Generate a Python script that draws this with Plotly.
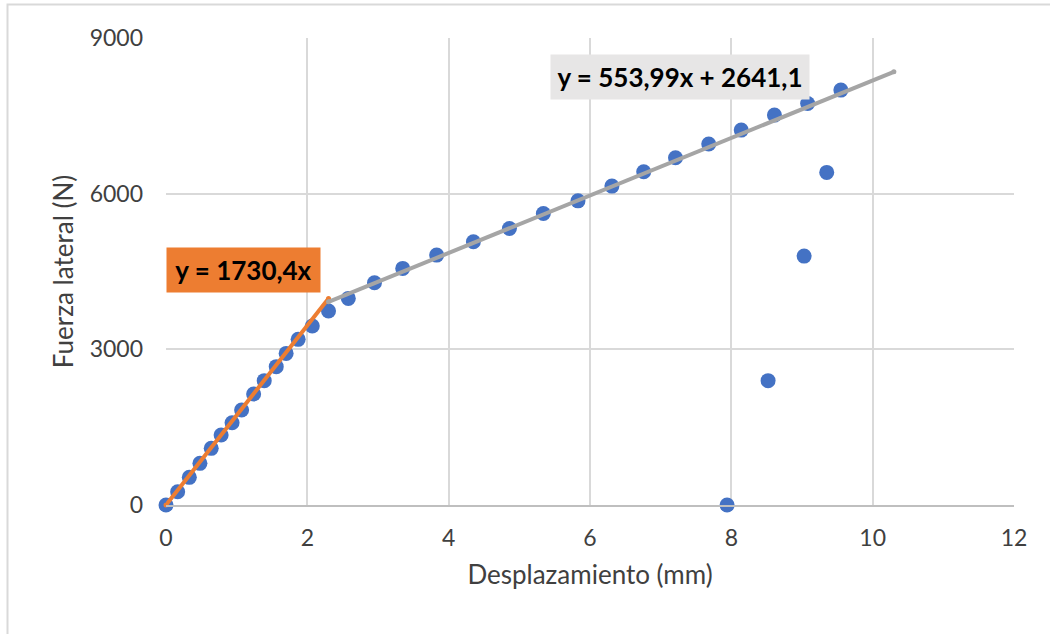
import plotly.graph_objects as go

# Measured points (displacement mm, lateral force N)
disp = [0.0, 0.165, 0.33, 0.48, 0.64, 0.78, 0.935, 1.07, 1.24, 1.39, 1.56, 1.70, 1.87, 2.07, 2.30,
        2.58, 2.95, 3.35, 3.83, 4.35, 4.86, 5.34, 5.83, 6.31, 6.76, 7.21, 7.68, 8.14, 8.61, 9.08, 9.55,
        9.35, 9.03, 8.52, 7.94]
force = [0, 256, 533, 803, 1092, 1348, 1586, 1830, 2139, 2396, 2666, 2922, 3192, 3449, 3738,
         3982, 4283, 4560, 4816, 5073, 5330, 5619, 5862, 6146, 6422, 6692, 6956, 7225, 7514, 7739, 7996,
         6410, 4797, 2396, 0]

# Trendlines: y = slope*x + intercept over [x_start, x_end]
trend_names = ["y = 1730,4x", "y = 553,99x + 2641,1"]
trend_slope = [1730.4, 553.99]
trend_intercept = [0.0, 2641.1]
trend_x_start = [0.0, 2.30]
trend_x_end = [2.30, 10.30]
trend_colors = ["#ED7D31", "#A5A5A5"]
label_bg = ["#ED7D31", "#E7E6E6"]
label_x = [1.097, 7.28]
label_y = [4529, 8244]
label_w = [153, 258]

x_ticks = [0, 2, 4, 6, 8, 10, 12]
y_ticks = [0, 3000, 6000, 9000]

FONT = "Lato"

fig = go.Figure()
fig.add_trace(go.Scatter(x=disp, y=force, mode="markers", cliponaxis=False,
                         marker=dict(color="#4472C4", size=15, line=dict(width=0)),
                         showlegend=False, hoverinfo="x+y"))
for i in range(len(trend_names)):
    xs = [trend_x_start[i], trend_x_end[i]]
    ys = [trend_slope[i] * v + trend_intercept[i] for v in xs]
    fig.add_trace(go.Scatter(x=xs, y=ys, mode="lines+markers", cliponaxis=False,
                             line=dict(color=trend_colors[i], width=4),
                             marker=dict(color=trend_colors[i], size=5),
                             showlegend=False, hoverinfo="skip"))
    fig.add_annotation(x=label_x[i], y=label_y[i], xref="x", yref="y",
                       text="<b>" + trend_names[i] + "</b>", showarrow=False,
                       bgcolor=label_bg[i], borderpad=0, width=label_w[i], height=44,
                       font=dict(family=FONT, size=26, color="#000000"))

# outer chart frame (top and left edges visible)
fig.add_shape(type="rect", xref="paper", yref="paper",
              x0=(7.5 - 166) / 848, x1=(1060 - 166) / 848,
              y0=(505 - 650) / 467, y1=(505 - 4.5) / 467,
              line=dict(color="#D9D9D9", width=2), layer="below")

fig.update_xaxes(range=[0, 12], tickvals=x_ticks, showgrid=True, gridcolor="#D9D9D9", gridwidth=2,
                 zeroline=False, showline=True, linecolor="#BFBFBF", linewidth=2,
                 ticks="", tickfont=dict(family=FONT, size=23, color="#404040"),
                 ticklabelstandoff=11,
                 title=dict(text="Desplazamiento (mm)", font=dict(family=FONT, size=26, color="#404040"),
                            standoff=16))
fig.update_yaxes(range=[0, 9000], tickvals=y_ticks, showgrid=True, gridcolor="#D9D9D9", gridwidth=2,
                 zeroline=False, showline=False, mirror=False,
                 ticks="", tickfont=dict(family=FONT, size=23, color="#404040"),
                 ticklabelstandoff=22,
                 title=dict(text="Fuerza lateral (N)", font=dict(family=FONT, size=26, color="#404040"),
                            standoff=8))
fig.update_layout(width=1050, height=634, autosize=False,
                  margin=dict(l=166, r=36, t=38, b=129),
                  paper_bgcolor="white", plot_bgcolor="white",
                  font=dict(family=FONT))
fig.write_html("out.html")
